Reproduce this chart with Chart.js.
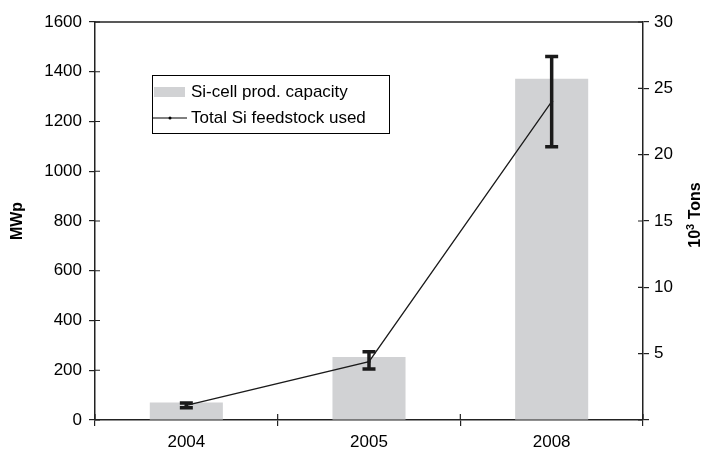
<!DOCTYPE html>
<html>
<head>
<meta charset="utf-8">
<script src="https://cdn.jsdelivr.net/npm/chart.js@4/dist/chart.umd.min.js"></script>
<style>
  html, body { margin: 0; padding: 0; background: #fff; }
  #wrap { width: 703px; height: 451px; }
</style>
</head>
<body>
<div id="wrap"><canvas id="c" width="703" height="451"></canvas></div>
<script>
// Years on the category axis
const years = ['2004', '2005', '2008'];
// Si-cell production capacity, MWp (left axis)
const cellCapacity = [70, 253, 1372];
// Total Si feedstock used, 10^3 tons (right axis), with error range
const feedstockUsed = [1.1, 4.4, 24.0];
const feedstockLow = [0.92, 3.85, 20.6];
const feedstockHigh = [1.28, 5.15, 27.4];
// Axis tick settings
const leftTicks = { min: 0, max: 1600, step: 200 };
const rightTicks = { min: 0, max: 30, step: 5 };

const FONT = "'Liberation Sans', Arial, Helvetica, sans-serif";
const BAR_GREY = '#d1d2d4';

// Error bars for the feedstock line, drawn on the right-hand scale
const errorBars = {
  id: 'errorBars',
  afterDatasetsDraw(chart) {
    const { ctx, scales } = chart;
    const x = scales.x, y1 = scales.y1;
    ctx.save();
    ctx.strokeStyle = '#1a1a1a';
    ctx.lineWidth = 3.5;
    ctx.lineCap = 'butt';
    feedstockUsed.forEach((v, i) => {
      const px = x.getPixelForValue(i);
      const lo = y1.getPixelForValue(feedstockLow[i]);
      const hi = y1.getPixelForValue(feedstockHigh[i]);
      ctx.beginPath();
      ctx.moveTo(px, lo); ctx.lineTo(px, hi);
      ctx.moveTo(px - 6.5, lo); ctx.lineTo(px + 6.5, lo);
      ctx.moveTo(px - 6.5, hi); ctx.lineTo(px + 6.5, hi);
      ctx.stroke();
    });
    ctx.restore();
  }
};

// Frame top edge, inward tick halves, axis titles and the legend box
const frameAndLabels = {
  id: 'frameAndLabels',
  afterDraw(chart) {
    const { ctx, chartArea: a, scales } = chart;
    ctx.save();
    ctx.strokeStyle = '#222';
    ctx.lineWidth = 1.5;
    // top edge of the plot frame
    ctx.beginPath();
    ctx.moveTo(a.left, a.top); ctx.lineTo(a.right, a.top);
    ctx.stroke();
    // inward tick halves
    ctx.lineWidth = 1.2;
    ctx.beginPath();
    scales.y.ticks.forEach(t => {
      const py = scales.y.getPixelForValue(t.value);
      ctx.moveTo(a.left, py); ctx.lineTo(a.left + 5, py);
    });
    scales.y1.ticks.forEach(t => {
      const py = scales.y1.getPixelForValue(t.value);
      ctx.moveTo(a.right, py); ctx.lineTo(a.right - 5, py);
    });
    for (let i = 0; i <= years.length; i++) {
      const px = scales.x.getPixelForValue(i - 0.5);
      ctx.moveTo(px, a.bottom); ctx.lineTo(px, a.bottom - 6);
    }
    ctx.stroke();

    // axis titles
    ctx.fillStyle = '#000';
    const midY = (a.top + a.bottom) / 2;
    ctx.font = 'bold 16px ' + FONT;
    ctx.textAlign = 'center';
    ctx.textBaseline = 'middle';
    ctx.save();
    ctx.translate(18, midY);
    ctx.rotate(-Math.PI / 2);
    ctx.fillText('MWp', 0, 0);
    ctx.restore();

    ctx.save();
    ctx.translate(696, midY - 6);
    ctx.rotate(-Math.PI / 2);
    const big = 'bold 16px ' + FONT, small = 'bold 11px ' + FONT;
    ctx.font = big; const w1 = ctx.measureText('10').width;
    ctx.font = small; const w2 = ctx.measureText('3').width;
    ctx.font = big; const w3 = ctx.measureText(' Tons').width;
    let sx = -(w1 + w2 + w3) / 2;
    ctx.textAlign = 'left';
    ctx.font = big; ctx.fillText('10', sx, 0); sx += w1;
    ctx.font = small; ctx.fillText('3', sx, -5); sx += w2;
    ctx.font = big; ctx.fillText(' Tons', sx, 0);
    ctx.restore();

    // legend box
    const lx = 152, ly = 75, lw = 237, lh = 58;
    ctx.fillStyle = '#fff';
    ctx.fillRect(lx, ly, lw, lh);
    ctx.strokeStyle = '#000';
    ctx.lineWidth = 1;
    ctx.strokeRect(lx + 0.5, ly + 0.5, lw, lh);
    const ds = chart.data.datasets;
    const row1 = ly + 17, row2 = ly + 43;
    ctx.fillStyle = ds[1].backgroundColor;
    ctx.fillRect(lx + 2, row1 - 5, 31, 10);
    ctx.strokeStyle = '#000';
    ctx.lineWidth = 1.2;
    ctx.beginPath();
    ctx.moveTo(lx + 1, row2); ctx.lineTo(lx + 35, row2);
    ctx.stroke();
    ctx.fillStyle = '#000';
    ctx.beginPath(); ctx.arc(lx + 18, row2, 1.5, 0, Math.PI * 2); ctx.fill();
    ctx.font = '17px ' + FONT;
    ctx.textAlign = 'left';
    ctx.textBaseline = 'middle';
    ctx.fillText(ds[1].label, lx + 39, row1);
    ctx.fillText(ds[0].label, lx + 39, row2);
    ctx.restore();
  }
};

const tickFont = { family: FONT, size: 17 };

new Chart(document.getElementById('c'), {
  data: {
    labels: years,
    datasets: [
      {
        type: 'line',
        label: 'Total Si feedstock used',
        data: feedstockUsed,
        yAxisID: 'y1',
        borderColor: '#1a1a1a',
        borderWidth: 1.3,
        pointRadius: 1.5,
        pointBackgroundColor: '#000',
        pointBorderWidth: 0,
        tension: 0,
        order: 0
      },
      {
        type: 'bar',
        label: 'Si-cell prod. capacity',
        data: cellCapacity,
        yAxisID: 'y',
        backgroundColor: BAR_GREY,
        borderWidth: 0,
        barPercentage: 0.4,
        categoryPercentage: 1.0,
        order: 1
      }
    ]
  },
  options: {
    responsive: false,
    animation: false,
    layout: { padding: { top: 22, left: 0, right: 0, bottom: 0 } },
    plugins: { legend: { display: false }, tooltip: { enabled: false } },
    scales: {
      x: {
        offset: true,
        grid: { offset: true, drawOnChartArea: false, color: '#222', tickLength: 6, lineWidth: 1.2 },
        border: { color: '#222', width: 1.5 },
        ticks: { color: '#000', font: tickFont, padding: 6 },
        afterFit(s) { s.height = 31; }
      },
      y: {
        position: 'left',
        min: leftTicks.min, max: leftTicks.max,
        grid: { drawOnChartArea: false, color: '#222', tickLength: 6, lineWidth: 1.2 },
        border: { color: '#222', width: 1.5 },
        ticks: {
          stepSize: leftTicks.step, color: '#000', font: tickFont, padding: 7,
          callback: v => String(v)
        },
        afterFit(s) { s.width = 95; }
      },
      y1: {
        position: 'right',
        min: rightTicks.min, max: rightTicks.max,
        grid: { drawOnChartArea: false, color: '#222', tickLength: 6, lineWidth: 1.2 },
        border: { color: '#222', width: 1.5 },
        ticks: {
          stepSize: rightTicks.step, color: '#000', font: tickFont, padding: 5,
          callback: v => (v === 0 ? '' : String(v))
        },
        afterFit(s) { s.width = 60; }
      }
    }
  },
  plugins: [errorBars, frameAndLabels]
});
</script>
</body>
</html>
